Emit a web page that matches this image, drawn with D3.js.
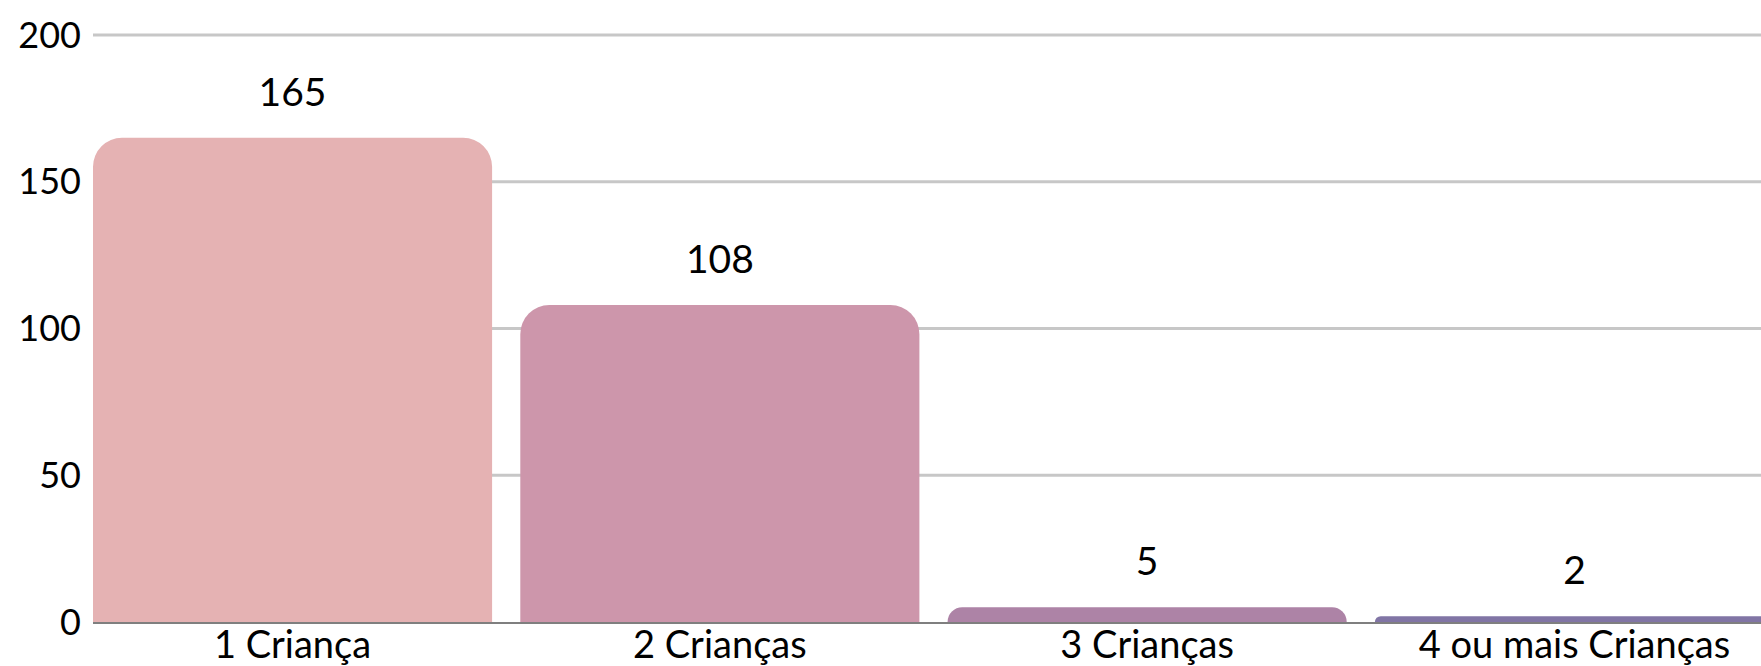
<!DOCTYPE html>
<html>
<head>
<meta charset="utf-8" />
<title>Crianças</title>
<style>
body { margin: 0; background: #fff; }
text { font-family: Lato, sans-serif; fill: #000; }
</style>
</head>
<body>
<div id="chart"></div>
<script src="https://d3js.org/d3.v7.min.js"></script>
<script>
(function(d3) {
	'use strict';

	var categories = ['1 Criança', '2 Crianças', '3 Crianças', '4 ou mais Crianças'];
	var counts = [165, 108, 5, 2];
	var colors = ['#e5b2b3', '#cd96ab', '#ad83a6', '#8175a5'];
	var yTicks = [0, 50, 100, 150, 200];

	var width = 1761;
	var height = 666;
	var left = 93, top = 35, bottom = 622;
	var step = 427.3; // bars run past the right edge, like the original

	var svg = d3.select('#chart').append('svg')
		.attr('width', width).attr('height', height);

	var x = d3.scaleBand().domain(categories)
		.range([left, left + step * (categories.length - 0.066)])
		.paddingInner(0.066).paddingOuter(0);

	var y = d3.scaleLinear().domain([0, 200]).range([bottom, top]);

	// grid
	svg.append('g').selectAll('line').data(yTicks.slice(1)).enter().append('line')
		.attr('x1', left).attr('x2', width)
		.attr('y1', function(d) { return y(d); })
		.attr('y2', function(d) { return y(d); })
		.attr('stroke', '#c7c7c7').attr('stroke-width', 3);

	svg.append('g').selectAll('text').data(yTicks).enter().append('text')
		.attr('x', 81).attr('y', function(d) { return y(d); })
		.attr('dy', '0.35em').attr('text-anchor', 'end')
		.style('font-size', '36px')
		.text(function(d) { return d; });

	// bars with rounded top corners
	function barPath(d, i) {
		var x0 = x(categories[i]), w = x.bandwidth();
		var y0 = y(d), h = bottom - y0;
		var r = Math.min(29, h, w / 2);
		return 'M' + x0 + ',' + bottom +
			'V' + (y0 + r) +
			'A' + r + ',' + r + ' 0 0 1 ' + (x0 + r) + ',' + y0 +
			'H' + (x0 + w - r) +
			'A' + r + ',' + r + ' 0 0 1 ' + (x0 + w) + ',' + (y0 + r) +
			'V' + bottom + 'Z';
	}

	svg.append('g').selectAll('path').data(counts).enter().append('path')
		.attr('d', barPath)
		.attr('fill', function(d, i) { return colors[i]; });

	// baseline
	svg.append('line')
		.attr('x1', left).attr('x2', width)
		.attr('y1', bottom + 1).attr('y2', bottom + 1)
		.attr('stroke', '#7f7f7f').attr('stroke-width', 2);

	// value labels
	svg.append('g').selectAll('text').data(counts).enter().append('text')
		.attr('x', function(d, i) { return x(categories[i]) + x.bandwidth() / 2; })
		.attr('y', function(d) { return y(d) - 32; })
		.attr('text-anchor', 'middle')
		.style('font-size', '39px')
		.text(function(d) { return d; });

	// category labels
	svg.append('g').selectAll('text').data(categories).enter().append('text')
		.attr('x', function(d) { return x(d) + x.bandwidth() / 2; })
		.attr('y', 658)
		.attr('text-anchor', 'middle')
		.style('font-size', '38px')
		.text(function(d) { return d; });

})(window.d3);
</script>
</body>
</html>
